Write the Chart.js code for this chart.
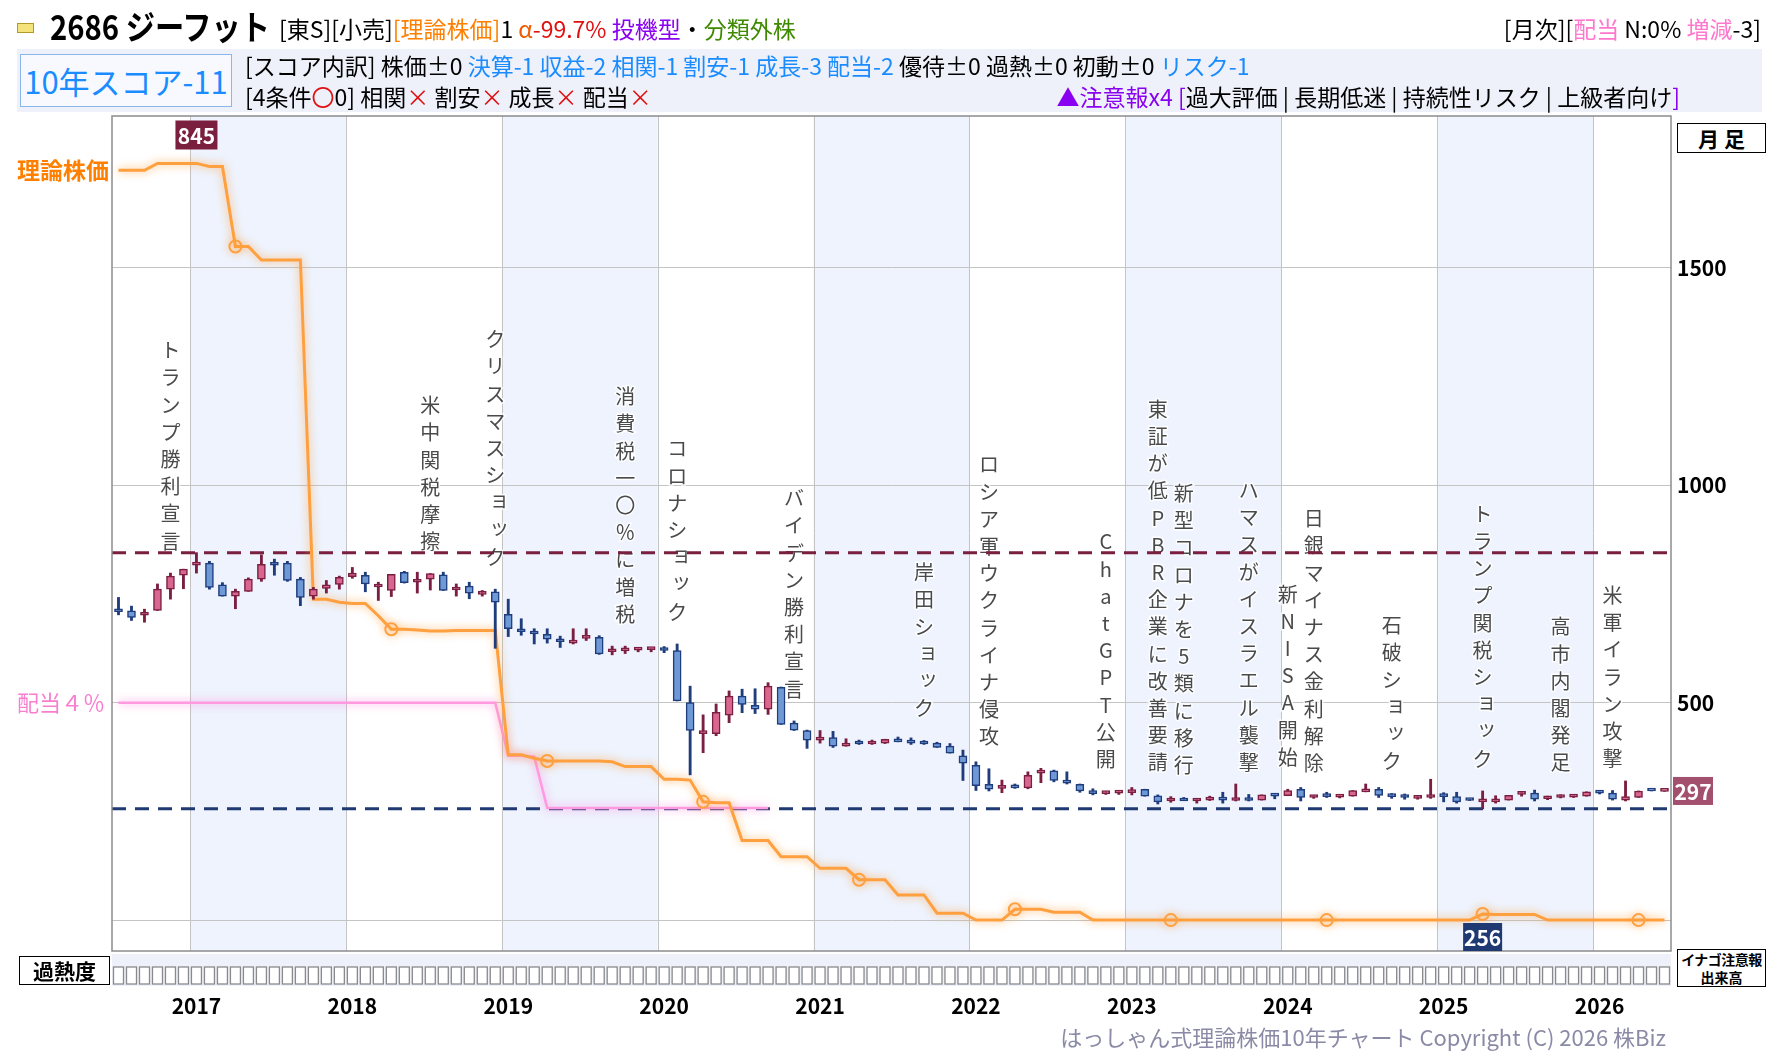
<!DOCTYPE html>
<html lang="ja">
<head>
<meta charset="utf-8">
<title>2686 ジーフット 理論株価10年チャート</title>
<script src="https://cdn.jsdelivr.net/npm/chart.js@4.4.1/dist/chart.umd.min.js"></script>
<style>
body{margin:0;background:#fff;font-family:"Noto Sans CJK JP","Noto Sans",sans-serif;}
#pagina{position:relative;width:1780px;height:1054px;overflow:hidden;}
#grafico{position:absolute;left:0;top:0;}
.txt{position:absolute;white-space:nowrap;line-height:1;color:#000;}
.laranja{color:#ff8000;}
.vermelho{color:#e01010;}
.roxo{color:#8a00f0;}
.verde{color:#3f8a00;}
.azul{color:#1a8cff;}
.rosa{color:#ff77cc;}
.x_verm{color:#e01010;}
</style>
</head>
<body>
<div id="pagina">
	<canvas id="grafico" width="1780" height="1054"></canvas>

	<div style="position:absolute;left:17px;top:49px;width:1745px;height:63px;background:#eef0fa;"></div>
	<div style="position:absolute;left:17px;top:23px;width:15px;height:8px;background:#f4e37a;border:1px solid #b09a2a;"></div>
	<div class="txt" style="left:50px;top:9px;font-size:34px;font-weight:bold;transform:scaleX(0.86);transform-origin:left center;">2686 ジーフット</div>
	<div class="txt" style="left:279px;top:17px;font-size:23px;">[東S][小売]<span class="laranja">[理論株価]</span>1 <span style="color:#f05a00">α</span><span class="vermelho">-99.7%</span> <span class="roxo">投機型</span>・<span class="verde">分類外株</span></div>
	<div class="txt" style="right:19px;top:17px;font-size:23px;">[月次][<span class="rosa">配当</span> N:0% <span class="rosa">増減</span>-3]</div>

	<div class="txt" style="left:20px;top:54px;width:210px;height:51px;border:1px solid #8ab6ee;background:#f7f9ff;font-size:31px;line-height:51px;text-align:center;color:#1a8cff;">10年スコア-11</div>
	<div class="txt" style="left:245px;top:54px;font-size:23px;">[スコア内訳] 株価±0 <span class="azul">決算-1 収益-2 相関-1 割安-1 成長-3 配当-2</span> 優待±0 過熱±0 初動±0 <span class="azul">リスク-1</span></div>
	<div class="txt" style="left:245px;top:85px;font-size:23px;">[4条件<span class="x_verm">〇</span>0] 相関<span class="x_verm">×</span> 割安<span class="x_verm">×</span> 成長<span class="x_verm">×</span> 配当<span class="x_verm">×</span></div>
	<div class="txt" style="right:100px;top:85px;font-size:23px;"><span class="roxo">▲注意報x4 [</span>過大評価 | 長期低迷 | 持続性リスク | 上級者向け<span class="roxo">]</span></div>

	<div class="txt" style="left:1677px;top:123px;width:87px;height:28px;border:1.5px solid #000;background:#fff;font-size:21px;line-height:28px;font-weight:bold;text-align:center;">月 足</div>
	<div class="txt" style="left:19px;top:956px;width:89px;height:27px;border:1.5px solid #000;background:#fff;font-size:21px;line-height:27px;font-weight:bold;text-align:center;">過熱度</div>
	<div class="txt" style="left:1677px;top:949px;width:87px;height:18px;border:1.5px solid #000;background:#fff;font-size:14px;line-height:18px;font-weight:bold;text-align:center;letter-spacing:-0.5px;">イナゴ注意報</div>
	<div class="txt" style="left:1677px;top:968px;width:87px;height:18px;border:1.5px solid #000;border-top:none;background:#fff;font-size:14px;line-height:18px;font-weight:bold;text-align:center;">出来高</div>

	<div class="txt" style="right:114px;top:1025px;font-size:22px;color:#8a8aa6;">はっしゃん式理論株価10年チャート Copyright (C) 2026 株Biz</div>
</div>

<script>
//----------------------------------------Variaveis globais----------------------------------------
//Meses do grafico (jul/2016 ate jun/2026)
const meses = [];
for(let i = 0; i < 120; i++){
	const ano = 2016 + Math.floor((6 + i) / 12);
	const mes = (6 + i) % 12 + 1;
	meses.push(ano + "-" + String(mes).padStart(2, "0"));
}

//Velas mensais: abertura, maxima, minima, fechamento
const precos_abertura = [
	715, 711, 701, 712, 761, 793, 816, 821, 771, 745, 756, 784,
	821, 821, 784, 745, 763, 772, 790, 793, 766, 758, 800, 777,
	784, 794, 759, 768, 749, 755, 703, 666, 663, 657, 646, 637,
	648, 650, 617, 619, 621, 622, 624, 620, 500, 429, 429, 471,
	515, 494, 485, 535, 453, 436, 414, 420, 400, 408, 405, 407,
	416, 414, 410, 407, 400, 378, 356, 312, 303, 308, 304, 338,
	343, 322, 312, 295, 291, 292, 293, 301, 286, 274, 277, 274,
	276, 282, 275, 280, 276, 289, 286, 301, 282, 290, 283, 285,
	295, 301, 288, 286, 280, 282, 289, 284, 279, 272, 272, 276,
	289, 292, 279, 282, 283, 285, 295, 292, 276, 282, 298, 296
];
const precos_maxima = [
	742, 722, 715, 773, 798, 807, 845, 825, 776, 761, 787, 840,
	830, 825, 788, 765, 781, 791, 811, 800, 777, 795, 802, 800,
	797, 800, 773, 777, 758, 761, 738, 693, 670, 670, 653, 670,
	670, 654, 630, 630, 626, 626, 629, 635, 538, 472, 497, 527,
	531, 532, 546, 536, 458, 437, 436, 434, 417, 414, 414, 416,
	421, 419, 413, 409, 406, 391, 364, 348, 322, 313, 341, 349,
	345, 341, 313, 302, 296, 296, 305, 301, 288, 284, 282, 278,
	285, 294, 313, 289, 288, 289, 301, 305, 287, 294, 287, 298,
	313, 305, 291, 290, 286, 324, 293, 294, 279, 297, 286, 287,
	294, 299, 285, 288, 289, 295, 297, 298, 320, 297, 298, 297
];
const precos_minima = [
	702, 689, 685, 712, 738, 762, 798, 761, 745, 716, 756, 779,
	793, 779, 723, 738, 752, 761, 786, 755, 735, 744, 775, 752,
	759, 758, 745, 739, 745, 625, 652, 655, 635, 637, 627, 635,
	643, 611, 610, 613, 617, 617, 615, 504, 334, 385, 424, 454,
	477, 475, 473, 450, 436, 395, 407, 397, 400, 404, 404, 406,
	410, 404, 404, 397, 384, 321, 298, 297, 293, 303, 302, 316,
	318, 313, 294, 288, 289, 289, 288, 285, 267, 271, 275, 269,
	275, 269, 274, 274, 276, 279, 286, 274, 280, 282, 281, 285,
	295, 282, 280, 278, 278, 280, 272, 269, 275, 256, 269, 276,
	285, 274, 277, 281, 282, 285, 290, 276, 274, 282, 297, 296
];
const precos_fechamento = [
	709, 696, 708, 761, 791, 807, 823, 765, 745, 756, 784, 818,
	816, 781, 742, 761, 771, 788, 798, 773, 768, 795, 776, 781,
	797, 758, 765, 752, 755, 731, 670, 663, 658, 646, 640, 643,
	654, 612, 621, 624, 624, 625, 620, 504, 436, 433, 478, 515,
	496, 485, 538, 450, 437, 414, 419, 400, 407, 405, 410, 416,
	410, 407, 405, 397, 384, 361, 309, 301, 307, 304, 333, 342,
	321, 315, 297, 291, 295, 295, 298, 285, 272, 279, 274, 277,
	281, 276, 279, 275, 288, 285, 298, 282, 287, 284, 287, 298,
	299, 287, 284, 282, 284, 287, 284, 272, 275, 276, 277, 287,
	293, 278, 284, 286, 288, 295, 292, 278, 284, 297, 297, 297
];

//Linha do preco teorico (理論株価)
const preco_teorico = [
	1724, 1724, 1724, 1740, 1740, 1740, 1740, 1733, 1733, 1549, 1549, 1518,
	1518, 1518, 1518, 738, 738, 731, 728, 728, 700, 669, 669, 667,
	665, 665, 666, 666, 666, 666, 380, 380, 372, 366, 366, 366,
	366, 366, 364, 353, 353, 353, 324, 324, 322, 272, 270, 270,
	183, 183, 183, 146, 146, 146, 119, 119, 119, 93, 93, 93,
	58, 58, 58, 16, 16, 16, 0, 0, 0, 25, 25, 25,
	18, 18, 18, 0, 0, 0, 0, 0, 0, 0, 0, 0,
	0, 0, 0, 0, 0, 0, 0, 0, 0, 0, 0, 0,
	0, 0, 0, 0, 0, 0, 0, 0, 0, 14, 13, 13,
	13, 13, 0, 0, 0, 0, 0, 0, 0, 0, 0, 0
];
//Marcas anuais (circulos) na linha teorica
const marcas_teorico = ["2017-04", "2018-04", "2019-04", "2020-04", "2021-04", "2022-04", "2023-04", "2024-04", "2025-04", "2026-04"];

//Linha de dividendo 4% (配当4%)
const linha_dividendo = [
	500, 500, 500, 500, 500, 500, 500, 500, 500, 500, 500, 500,
	500, 500, 500, 500, 500, 500, 500, 500, 500, 500, 500, 500,
	500, 500, 500, 500, 500, 500, 378, 378, 376, 258, 258, 258,
	258, 258, 258, 258, 258, 258, 258, 258, 258, 258, 258, 258,
	258, 258, 258
];

//Linhas tracejadas de maxima e minima
const valor_maximo = 845;
const valor_minimo = 256;

//Eixo y
const marcas_y = [0, 500, 1000, 1500];

//Eventos marcados no grafico
const eventos_mes = [
	"2016-11", "2018-07", "2018-12", "2019-10", "2020-02", "2020-11",
	"2021-09", "2022-02", "2022-11", "2023-03", "2023-05", "2023-10",
	"2024-01", "2024-03", "2024-09", "2025-04", "2025-10", "2026-02"
];
const eventos_texto = [
	"トランプ勝利宣言", "米中関税摩擦", "クリスマスショック", "消費税一〇％に増税", "コロナショック", "バイデン勝利宣言",
	"岸田ショック", "ロシア軍ウクライナ侵攻", "ChatGPT公開", "東証が低PBR企業に改善要請", "新型コロナを5類に移行", "ハマスがイスラエル襲撃",
	"新NISA開始", "日銀マイナス金利解除", "石破ショック", "トランプ関税ショック", "高市内閣発足", "米軍イラン攻撃"
];

const fonte = '"Noto Sans CJK JP", "Noto Sans", sans-serif';
const cor_alta = "#d8668e";
const cor_alta_borda = "#7b1f42";
const cor_baixa = "#6e98d6";
const cor_baixa_borda = "#1f3c7c";


//----------------------------------------Funções----------------------------------------
//Cor de cada vela
function cor_vela(i, borda){
	const alta = precos_fechamento[i] >= precos_abertura[i];
	if(borda) return alta ? cor_alta_borda : cor_baixa_borda;
	return alta ? cor_alta : cor_baixa;
}

//Caixa com texto centralizado
function caixa_texto(ctx, texto, cx, cy, largura, altura, fundo, cor, tamanho){
	ctx.fillStyle = fundo;
	ctx.fillRect(cx - largura / 2, cy - altura / 2, largura, altura);
	ctx.fillStyle = cor;
	ctx.font = "bold " + tamanho + "px " + fonte;
	ctx.textAlign = "center";
	ctx.textBaseline = "middle";
	ctx.fillText(texto, cx, cy + 1);
}

//Texto vertical dos eventos
function texto_vertical(ctx, texto, cx, base){
	const letras = Array.from(texto);
	const pequenas = "ッョャュァィゥェォっゃゅょ";
	const passo = 27.2;
	ctx.font = "20px " + fonte;
	ctx.textAlign = "center";
	ctx.textBaseline = "middle";
	letras.forEach((l, k) => {
		let px = cx;
		let py = base - 11 - (letras.length - 1 - k) * passo;
		if(pequenas.includes(l)){ px += 4; py -= 3; }
		ctx.lineWidth = 3;
		ctx.strokeStyle = "rgba(255,255,255,0.85)";
		ctx.strokeText(l, px, py);
		ctx.fillStyle = "#4a4a4a";
		ctx.fillText(l, px, py);
	});
}


//----------------------------------------Estruturas----------------------------------------
//Fundo: faixas dos anos e linhas verticais
const plugin_fundo = {
	id: "fundo",
	beforeDraw(chart){
		const {ctx, chartArea: area, scales: {x}} = chart;
		const passo = area.width / meses.length;
		ctx.save();
		meses.forEach((m, i) => {
			if(!m.endsWith("-01")) return;
			const esq = x.getPixelForValue(i) - passo / 2;
			if(parseInt(m) % 2 === 1){
				ctx.fillStyle = "#eef3fd";
				ctx.fillRect(esq, area.top, Math.min(passo * 12, area.right - esq), area.height);
			}
		});
		ctx.strokeStyle = "#c4c4c4";
		ctx.lineWidth = 1;
		meses.forEach((m, i) => {
			if(!m.endsWith("-01")) return;
			const esq = Math.round(x.getPixelForValue(i) - passo / 2) + 0.5;
			ctx.beginPath();
			ctx.moveTo(esq, area.top);
			ctx.lineTo(esq, area.bottom);
			ctx.stroke();
		});
		ctx.restore();
	},
	beforeDatasetsDraw(chart){
		const {ctx, chartArea: area, scales: {x, y}} = chart;
		ctx.save();
		//Eventos
		eventos_mes.forEach((m, k) => {
			const i = meses.indexOf(m);
			texto_vertical(ctx, eventos_texto[k], x.getPixelForValue(i), y.getPixelForValue(precos_maxima[i]) - 21);
		});
		//Linhas tracejadas
		ctx.lineWidth = 3;
		ctx.setLineDash([14, 9]);
		ctx.strokeStyle = "#7a1f3f";
		ctx.beginPath();
		ctx.moveTo(area.left, y.getPixelForValue(valor_maximo));
		ctx.lineTo(area.right, y.getPixelForValue(valor_maximo));
		ctx.stroke();
		ctx.strokeStyle = "#1f3a73";
		ctx.beginPath();
		ctx.moveTo(area.left, y.getPixelForValue(valor_minimo));
		ctx.lineTo(area.right, y.getPixelForValue(valor_minimo));
		ctx.stroke();
		ctx.restore();
	},
	beforeDatasetDraw(chart, args){
		const ds = chart.data.datasets[args.index];
		chart.ctx.save();
		if(ds.brilho){
			chart.ctx.shadowColor = ds.brilho;
			chart.ctx.shadowBlur = 9;
		}
	},
	afterDatasetDraw(chart){
		chart.ctx.restore();
	},
	afterDraw(chart){
		const {ctx, chartArea: area, scales: {x, y}} = chart;
		const passo = area.width / meses.length;
		ctx.save();

		//Borda da area
		ctx.strokeStyle = "#8c8c8c";
		ctx.lineWidth = 1.5;
		ctx.strokeRect(area.left, area.top, area.width, area.height);

		//Rotulos a esquerda
		ctx.textAlign = "left";
		ctx.textBaseline = "middle";
		ctx.font = "bold 23px " + fonte;
		ctx.fillStyle = "#ff8000";
		ctx.fillText("理論株価", 17, y.getPixelForValue(preco_teorico[0]));
		ctx.font = "22px " + fonte;
		ctx.fillStyle = "#f77fd0";
		ctx.fillText("配当４％", 17, y.getPixelForValue(linha_dividendo[0]));

		//Caixas de maxima, minima e ultimo preco
		const i_max = precos_maxima.indexOf(Math.max(...precos_maxima));
		const i_min = precos_minima.indexOf(Math.min(...precos_minima));
		caixa_texto(ctx, String(valor_maximo), x.getPixelForValue(i_max), area.top + 19, 42, 29, "#7b1f3f", "#fff", 21);
		caixa_texto(ctx, String(valor_minimo), x.getPixelForValue(i_min), area.bottom - 14, 39, 28, "#1f3a73", "#fff", 21);
		const ultimo = precos_fechamento[precos_fechamento.length - 1];
		caixa_texto(ctx, String(ultimo), area.right + 22, y.getPixelForValue(ultimo), 40, 28, "#a3506e", "#fff", 21);

		//Linha de caixas do 過熱度
		ctx.fillStyle = "#eef0fa";
		ctx.fillRect(area.left, area.bottom + 3, area.width, 32);
		ctx.strokeStyle = "#8a8a8a";
		ctx.lineWidth = 1.3;
		meses.forEach((m, i) => {
			const esq = x.getPixelForValue(i) - passo / 2 + 1.5;
			ctx.fillStyle = "#fff";
			ctx.fillRect(esq, area.bottom + 16, 10, 17);
			ctx.strokeRect(esq, area.bottom + 16, 10, 17);
		});

		//Anos
		ctx.fillStyle = "#000";
		ctx.font = "bold 21px " + fonte;
		ctx.textAlign = "center";
		meses.forEach((m, i) => {
			if(m.endsWith("-01")) ctx.fillText(m.slice(0, 4), x.getPixelForValue(i), 1006);
		});
		ctx.restore();
	}
};


//Gera o grafico
const grafico = new Chart(document.getElementById("grafico"), {
	type: "bar",
	data: {
		labels: meses,
		datasets: [
			{
				label: "実体",
				data: precos_abertura.map((a, i) => [a, precos_fechamento[i]]),
				backgroundColor: precos_abertura.map((a, i) => cor_vela(i, false)),
				borderColor: precos_abertura.map((a, i) => cor_vela(i, true)),
				borderWidth: 1.5,
				borderSkipped: false,
				barThickness: 8,
				minBarLength: 3,
				grouped: false,
				order: 1
			},
			{
				label: "ヒゲ",
				data: precos_minima.map((l, i) => [l, precos_maxima[i]]),
				backgroundColor: precos_minima.map((l, i) => cor_vela(i, true)),
				borderWidth: 0,
				barThickness: 2.2,
				grouped: false,
				order: 2
			},
			{
				type: "line",
				label: "理論株価",
				data: preco_teorico,
				borderColor: "#ffa040",
				borderWidth: 3,
				brilho: "rgba(255,150,40,0.75)",
				tension: 0,
				pointRadius: meses.map(m => marcas_teorico.includes(m) ? 6 : 0),
				pointBorderColor: "#ffa040",
				pointBackgroundColor: "rgba(0,0,0,0)",
				pointBorderWidth: 2,
				order: 3
			},
			{
				type: "line",
				label: "配当4%",
				data: linha_dividendo,
				borderColor: "#ff9ae0",
				borderWidth: 2.5,
				brilho: "rgba(255,120,220,0.8)",
				tension: 0,
				pointRadius: 0,
				order: 4
			}
		]
	},
	options: {
		responsive: false,
		devicePixelRatio: 1,
		animation: false,
		events: [],
		layout: {
			padding: {left: 112, top: 116, right: 0, bottom: 103}
		},
		plugins: {
			legend: {display: false},
			tooltip: {enabled: false}
		},
		scales: {
			x: {
				display: false,
				offset: true
			},
			y: {
				position: "right",
				min: -71,
				max: 1849,
				afterFit(escala){ escala.width = 109; },
				afterBuildTicks(escala){ escala.ticks = marcas_y.map(v => ({value: v})); },
				grid: {color: "#c4c4c4", lineWidth: 1, drawTicks: false},
				border: {display: false},
				ticks: {
					padding: 6,
					color: "#000",
					font: {family: fonte, size: 21, weight: "bold"},
					callback: v => v === 0 ? "" : v
				}
			}
		}
	},
	plugins: [plugin_fundo]
});
</script>
</body>
</html>
